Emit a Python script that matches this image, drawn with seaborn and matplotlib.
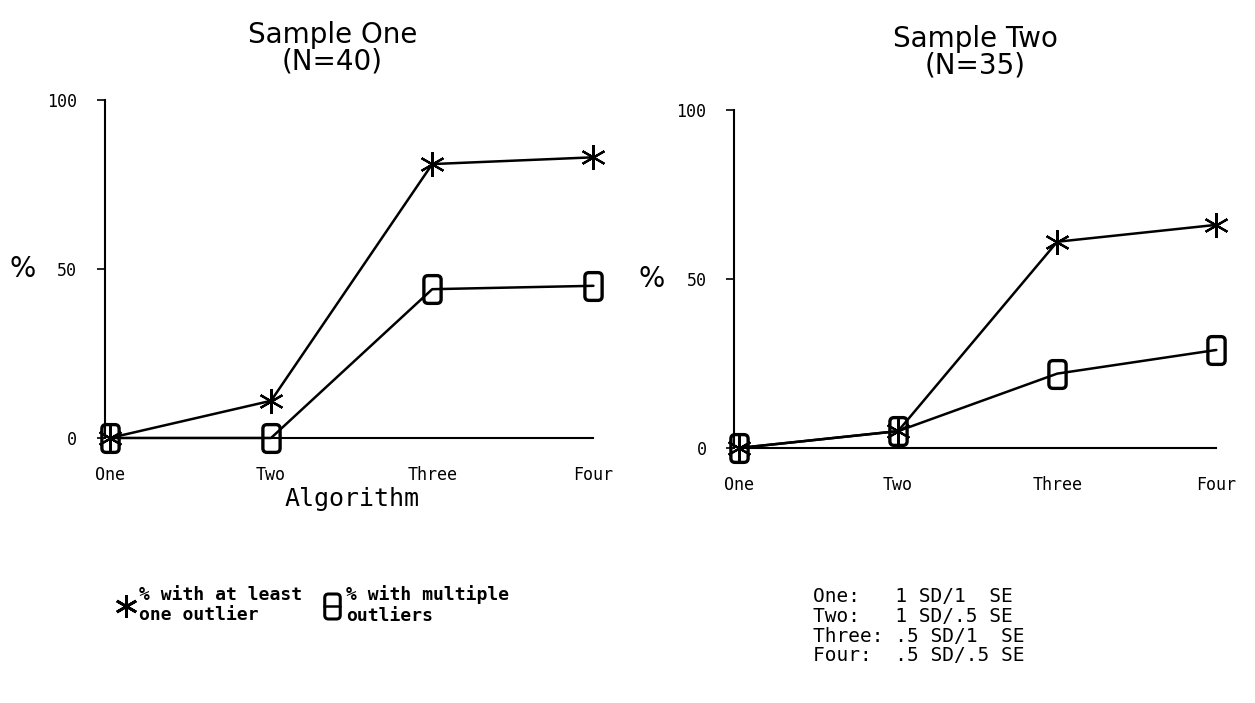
import matplotlib
matplotlib.use("Agg")
import matplotlib.pyplot as plt
from matplotlib.lines import Line2D
from matplotlib.path import Path
import seaborn as sns
import pandas as pd

sns.set_theme(style="white")
plt.rcParams['font.family'] = ['DejaVu Sans']
plt.rcParams['text.color'] = 'black'
plt.rcParams['xtick.color'] = 'black'
plt.rcParams['ytick.color'] = 'black'
plt.rcParams['axes.labelcolor'] = 'black'

algorithms = ["One", "Two", "Three", "Four"]
s1_at_least_one = [0, 11, 81, 83]
s1_multiple = [0, 0, 44, 45]
s2_at_least_one = [0, 5, 61, 66]
s2_multiple = [0, 5, 22, 29]
titles = ["Sample One\n(N=40)", "Sample Two\n(N=35)"]
legend_labels = ["% with at least\none outlier", "% with multiple\noutliers"]
note_lines = ["One:   1 SD/1  SE", "Two:   1 SD/.5 SE", "Three: .5 SD/1  SE", "Four:  .5 SD/.5 SE"]

# rounded tall box marker
w, h, r = 0.62, 1.0, 0.3
verts = [(-w + r, -h), (w - r, -h), (w, -h), (w, -h + r), (w, h - r), (w, h), (w - r, h),
         (-w + r, h), (-w, h), (-w, h - r), (-w, -h + r), (-w, -h), (-w + r, -h), (-w + r, -h)]
codes = [Path.MOVETO, Path.LINETO, Path.CURVE3, Path.CURVE3, Path.LINETO, Path.CURVE3, Path.CURVE3,
         Path.LINETO, Path.CURVE3, Path.CURVE3, Path.LINETO, Path.CURVE3, Path.CURVE3, Path.CLOSEPOLY]
box = Path(verts, codes)
asterisk = (6, 2, 0)

fig = plt.figure(figsize=(12.55, 7.03), dpi=100)
ax1 = fig.add_axes([0.0837, 0.377, 0.393, 0.481])
ax2 = fig.add_axes([0.585, 0.3627, 0.388, 0.481])

x = list(range(len(algorithms)))
for ax, star, mult in [(ax1, s1_at_least_one, s1_multiple), (ax2, s2_at_least_one, s2_multiple)]:
    df = pd.DataFrame({"x": x, "star": star, "mult": mult})
    sns.lineplot(data=df, x="x", y="star", ax=ax, color="black", lw=1.8,
                 marker=asterisk, markersize=18, markeredgewidth=1.6,
                 markeredgecolor="black", clip_on=False)
    sns.lineplot(data=df, x="x", y="mult", ax=ax, color="black", lw=1.8,
                 marker=box, markersize=20, markeredgewidth=2.4, fillstyle="none",
                 markeredgecolor="black", clip_on=False)
    ax.set_xlim(-0.03, 3.03)
    ax.set_ylim(0, 100)
    ax.set_yticks([0, 50, 100])
    ax.set_yticklabels(["0", "50", "100"], fontsize=12, family="DejaVu Sans Mono")
    ax.set_xticks(x)
    ax.set_xticklabels(algorithms, fontsize=12, family="DejaVu Sans Mono")
    ax.tick_params(axis="y", left=True, length=6, width=1.2, color="black", pad=14)
    ax.tick_params(axis="x", bottom=False, pad=14)
    for s in ["top", "right"]:
        ax.spines[s].set_visible(False)
    for s in ["left", "bottom"]:
        ax.spines[s].set_color("black")
        ax.spines[s].set_linewidth(1.5)
    ax.spines["bottom"].set_bounds(0, 3)
    ax.set_xlabel("")
    ax.set_ylabel("%", fontsize=20, rotation=0, labelpad=18, va="center")
    ax.patch.set_alpha(0)

fig.text(0.265, 0.97, titles[0], ha="center", va="top", fontsize=20, linespacing=0.95)
fig.text(0.777, 0.965, titles[1], ha="center", va="top", fontsize=20, linespacing=0.95)
ax1.set_xlabel("Algorithm", fontsize=18, labelpad=2)
ax1.xaxis.label.set_family("DejaVu Sans Mono")

handles = [Line2D([], [], color="black", marker=asterisk, markersize=16, lw=0,
                  markeredgewidth=2),
           Line2D([], [], color="black", marker=box, markersize=18, lw=1.8,
                  fillstyle="none", markeredgewidth=2.2)]
fig.legend(handles, legend_labels, loc="upper left", bbox_to_anchor=(0.088, 0.178),
           ncol=2, frameon=False, handlelength=0.9, handletextpad=0.3, columnspacing=1.2,
           prop={"family": "DejaVu Sans Mono", "weight": "bold", "size": 13},
           borderaxespad=0, labelspacing=0)

fig.text(0.648, 0.165, "\n".join(note_lines), ha="left", va="top",
         fontsize=14, family="DejaVu Sans Mono", linespacing=1.05)

fig.savefig("out.png", dpi=100, facecolor="white")
